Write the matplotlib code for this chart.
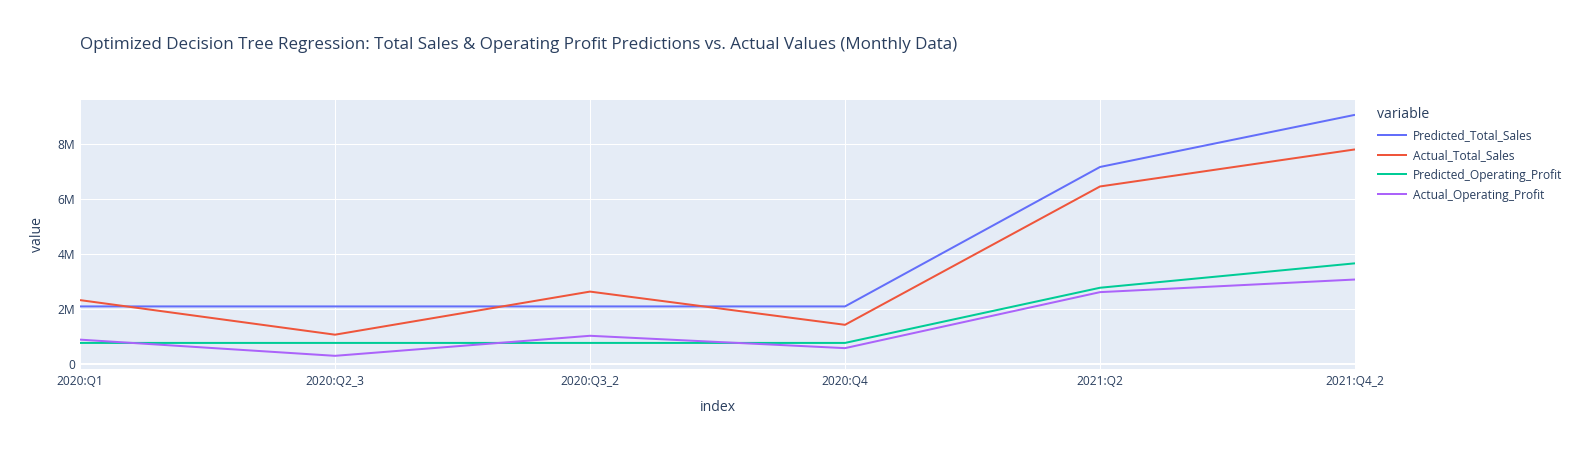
import matplotlib
matplotlib.use('Agg')
import matplotlib.pyplot as plt
from matplotlib.ticker import FuncFormatter, FixedLocator

# Values (millions)
PERIODS = ['2020:Q1', '2020:Q2_3', '2020:Q3_2', '2020:Q4', '2021:Q2', '2021:Q4_2']
PREDICTED_TOTAL_SALES = [2.09, 2.09, 2.09, 2.09, 7.17, 9.07]
ACTUAL_TOTAL_SALES = [2.32, 1.06, 2.63, 1.42, 6.46, 7.81]
PREDICTED_OPERATING_PROFIT = [0.76, 0.76, 0.76, 0.76, 2.77, 3.66]
ACTUAL_OPERATING_PROFIT = [0.88, 0.29, 1.02, 0.57, 2.61, 3.07]
Y_TICKS = [0, 2, 4, 6, 8]

SERIES = [('Predicted_Total_Sales', PREDICTED_TOTAL_SALES, '#636efa'),
          ('Actual_Total_Sales', ACTUAL_TOTAL_SALES, '#EF553B'),
          ('Predicted_Operating_Profit', PREDICTED_OPERATING_PROFIT, '#00cc96'),
          ('Actual_Operating_Profit', ACTUAL_OPERATING_PROFIT, '#ab63fa')]

TEXT_COLOR = '#2a3f5f'
BG_COLOR = '#E5ECF6'
PX = 72 / 100  # points per pixel at dpi=100

plt.rcParams['font.family'] = ['Open Sans', 'DejaVu Sans']

fig = plt.figure(figsize=(15.9, 4.5), dpi=100)
ax = fig.add_axes([80 / 1590, 1 - 369 / 450, (1355 - 80) / 1590, (369 - 100) / 450])
ax.set_facecolor(BG_COLOR)
for s in ax.spines.values():
    s.set_visible(False)

x = list(range(len(PERIODS)))
handles = []
for name, vals, color in SERIES:
    h, = ax.plot(x, [v * 1e6 for v in vals], color=color, lw=2 * PX, label=name,
                 solid_capstyle='butt', zorder=3)
    handles.append(h)

ax.set_xlim(0, len(PERIODS) - 1)
ax.set_ylim(-0.19e6, 9.61e6)
ax.xaxis.set_major_locator(FixedLocator(x))
ax.set_xticklabels(PERIODS)
ax.yaxis.set_major_locator(FixedLocator([t * 1e6 for t in Y_TICKS]))
ax.yaxis.set_major_formatter(FuncFormatter(lambda v, p: '0' if v == 0 else '%dM' % round(v / 1e6)))
ax.grid(True, color='white', lw=1 * PX, zorder=1)
ax.axhline(0, color='white', lw=2 * PX, zorder=2)
ax.tick_params(length=0, labelsize=12 * PX, labelcolor=TEXT_COLOR)
ax.tick_params(axis='x', pad=6 * PX)
ax.tick_params(axis='y', pad=5 * PX)

ax.set_xlabel('index', fontsize=14 * PX, color=TEXT_COLOR, labelpad=12 * PX)
ax.set_ylabel('value', fontsize=14 * PX, color=TEXT_COLOR, labelpad=12 * PX)

fig.text(80 / 1590, 1 - 45 / 450,
         'Optimized Decision Tree Regression: Total Sales & Operating Profit Predictions vs. Actual Values (Monthly Data)',
         fontsize=17 * PX, color=TEXT_COLOR, ha='left', va='center')

leg = fig.legend(handles=handles, loc='upper left', bbox_to_anchor=(1372 / 1590, 1 - 102 / 450),
                 frameon=False, title='variable', fontsize=12 * PX, title_fontsize=14 * PX,
                 handlelength=2.5, handletextpad=0.5, labelspacing=0.58, alignment='left',
                 borderaxespad=0)
leg.get_title().set_color(TEXT_COLOR)
for t in leg.get_texts():
    t.set_color(TEXT_COLOR)

fig.savefig('out.png', dpi=100)
